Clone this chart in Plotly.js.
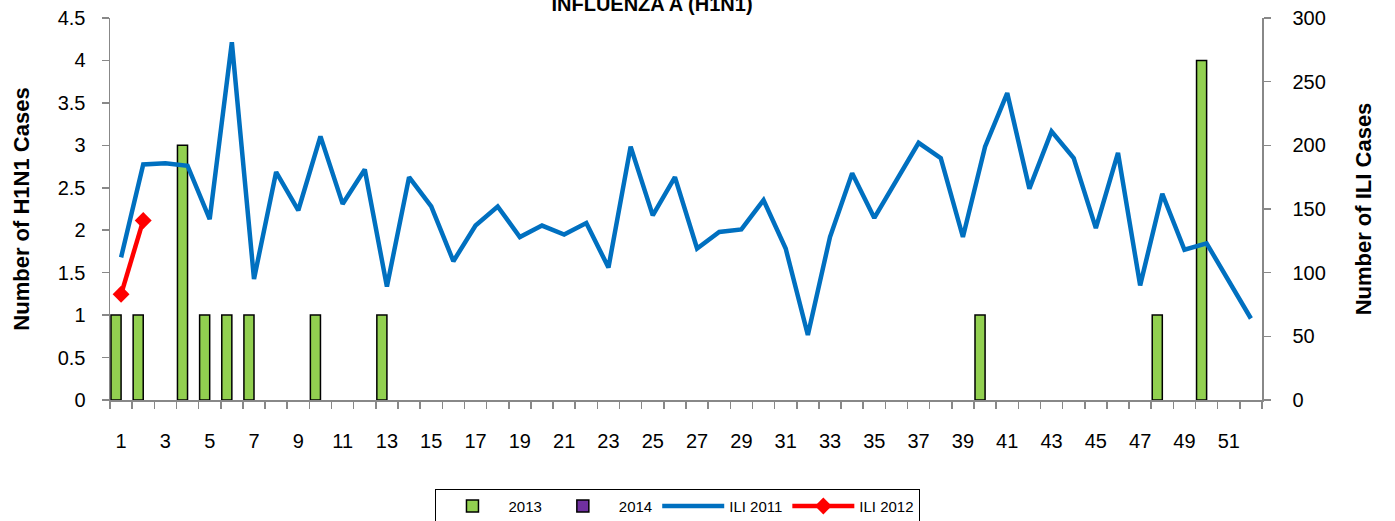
<!DOCTYPE html>
<html>
<head>
<meta charset="utf-8">
<script src="https://cdn.plot.ly/plotly-3.0.1.min.js"></script>
<style>html,body{margin:0;padding:0;background:#fff;}#chart{width:1395px;height:521px;}</style>
</head>
<body>
<div id="chart"></div>
<script>
// Weeks 1..52
var weeks = [];
for (var i = 1; i <= 52; i++) weeks.push(i);

// H1N1 cases 2013 (left axis); null = no cases reported that week
var cases2013 = [1,1,null,3,1,1,1,null,null,1,null,null,1,null,null,null,null,null,null,null,null,null,null,null,null,null,null,null,null,null,null,null,null,null,null,null,null,null,null,1,null,null,null,null,null,null,null,1,null,4,null,null];
// H1N1 cases 2014 (left axis) - no data
var cases2014 = [null];

// ILI cases 2011 (right axis)
var ili2011 = [112,185,186,184,142,281,95,179,149,207,154,181,89,175,152,109,137,152,128,137,130,139,104,199,145,175,119,132,134,157,119,51,128,178,143,172,202,190,128,199,241,166,211,190,135,194,90,162,118,123,94,64];
// ILI cases 2012 (right axis)
var iliWeeks2012 = [1,2];
var ili2012 = [83,141];

var xTickVals = [];
for (var k = 1; k <= 51; k += 2) xTickVals.push(k);

var traces = [
  {type:'bar', name:'2013', x:weeks, y:cases2013, yaxis:'y',
   marker:{color:'#92d050', line:{color:'#000000', width:1.5}}},
  {type:'bar', name:'2014', x:[1], y:cases2014, yaxis:'y',
   marker:{color:'#7030a0', line:{color:'#000000', width:1.5}}},
  {type:'scatter', mode:'lines', name:'ILI 2011', x:weeks, y:ili2011, yaxis:'y2',
   line:{color:'#0070c0', width:4.5}},
  {type:'scatter', mode:'lines+markers', name:'ILI 2012', x:iliWeeks2012, y:ili2012, yaxis:'y2',
   line:{color:'#ff0000', width:4.5}, marker:{symbol:'diamond', size:13, color:'#ff0000'}}
];

var layout = {
  width:1395, height:521,
  margin:{l:110, r:133, t:18, b:121},
  paper_bgcolor:'#ffffff', plot_bgcolor:'#ffffff',
  font:{family:'Liberation Sans, Arial, sans-serif', color:'#000000', size:18},
  title:{text:'<b>INFLUENZA A (H1N1)</b>', font:{size:20, family:'Liberation Sans, Arial, sans-serif'},
         xref:'container', yref:'container', x:0.4674, xanchor:'center', y:0.992, yanchor:'middle'},
  barmode:'group', bargap:0.09, bargroupgap:0,
  showlegend:true,
  legend:{orientation:'h', xref:'container', yref:'container', x:0.486, xanchor:'center', y:0.062, yanchor:'top',
          bordercolor:'#000000', borderwidth:1, font:{size:15}, traceorder:'normal', itemwidth:62},
  xaxis:{type:'linear', range:[0.5,52.5], tickmode:'array', tickvals:xTickVals, ticktext:xTickVals.map(String),
         ticks:'', showline:true, linecolor:'#888888', linewidth:1.5, showgrid:false, zeroline:false,
         tickfont:{size:20}, ticklabelstandoff:22,
         minor:{tickmode:'linear', tick0:0.5, dtick:1, ticks:'outside', ticklen:7, tickcolor:'#888888', tickwidth:1.5, showgrid:false}},
  yaxis:{range:[0,4.5], dtick:0.5, tickmode:'linear', ticks:'outside', ticklen:7, tickcolor:'#888888', tickwidth:1.5,
         showline:true, linecolor:'#888888', linewidth:1.5, showgrid:false, zeroline:false,
         tickfont:{size:20}, ticklabelstandoff:12,
         title:{text:'<b>Number of H1N1 Cases</b>', font:{size:22}, standoff:22}},
  yaxis2:{range:[0,300], dtick:50, tickmode:'linear', overlaying:'y', side:'right', ticks:'outside', ticklen:7,
          tickcolor:'#888888', tickwidth:1.5, showline:true, linecolor:'#888888', linewidth:1.5, showgrid:false, zeroline:false,
          tickfont:{size:20}, ticklabelstandoff:18,
          title:{text:'<b>Number of ILI Cases</b>', font:{size:22}, standoff:30}}
};

Plotly.newPlot('chart', traces, layout, {displayModeBar:false, staticPlot:true});
</script>
</body>
</html>
